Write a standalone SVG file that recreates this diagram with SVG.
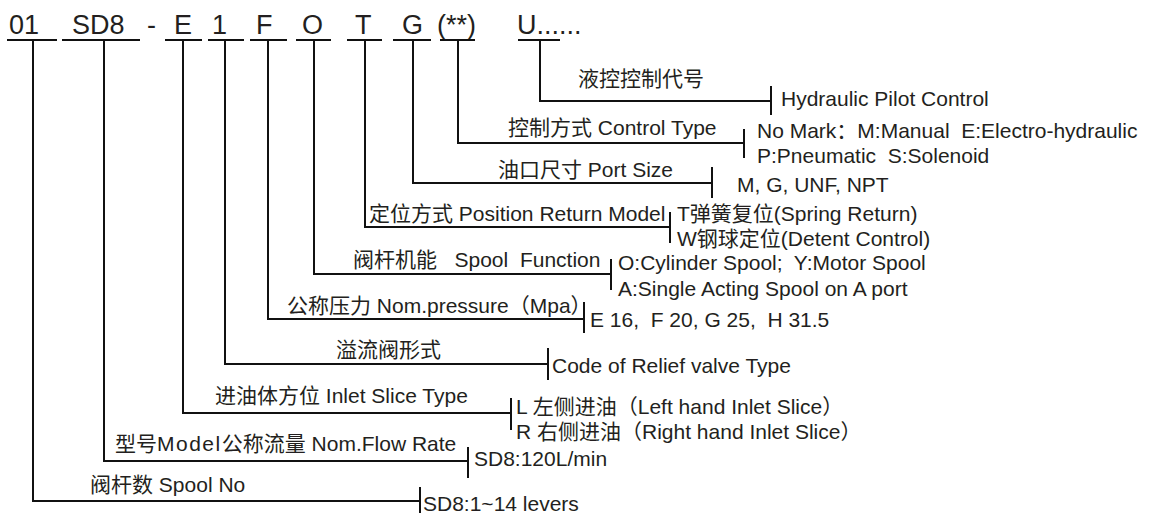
<svg xmlns="http://www.w3.org/2000/svg" width="1152" height="513" viewBox="0 0 1152 513">
<style>
text{font-family:"Liberation Sans","Noto Sans CJK SC",sans-serif;fill:#231f20;white-space:pre}
.h{font-size:27px}
.t{font-size:21px}
.ln{stroke:#111;stroke-width:2;fill:none}
</style>
<rect width="1152" height="513" fill="#fff"/>
<g id="code-01"><text class="h" x="9" y="34">01</text><path class="ln" d="M7 40H57"/></g>
<g id="code-SD8"><text class="h" x="72" y="34">SD8</text><path class="ln" d="M62 40H140"/></g>
<g id="code-dash"><text class="h" x="147" y="34">-</text></g>
<g id="code-E"><text class="h" x="174" y="34">E</text><path class="ln" d="M165 40H202"/></g>
<g id="code-1"><text class="h" x="212" y="34">1</text><path class="ln" d="M208 40H244"/></g>
<g id="code-F"><text class="h" x="256" y="34">F</text><path class="ln" d="M250 40H287"/></g>
<g id="code-O"><text class="h" x="302" y="34">O</text><path class="ln" d="M296 40H331"/></g>
<g id="code-T"><text class="h" x="355" y="34">T</text><path class="ln" d="M347 40H382"/></g>
<g id="code-G"><text class="h" x="402" y="34">G</text><path class="ln" d="M393 40H431"/></g>
<g id="code-star"><text class="h" x="437" y="34">(**)</text><path class="ln" d="M440 40H475"/></g>
<g id="code-U"><text class="h" x="517" y="34">U......</text><path class="ln" d="M518 40H560"/></g>

<g id="connectors" class="ln">
<path d="M540 40V101H771M771 86V115"/>
<path d="M458 40V143H744M744 129V158"/>
<path d="M413 40V183H712M712 167V198"/>
<path d="M365 40V227H670M670 212V243"/>
<path d="M314 40V274H611M611 259V290"/>
<path d="M268 40V319H584M584 302V333"/>
<path d="M225 40V364H548M548 348V380"/>
<path d="M183 40V413H511M511 398V430"/>
<path d="M104 40V461H468M468 447V478"/>
<path d="M33 40V501H420M420 487V513"/>
</g>

<g id="pilot"><text class="t" x="578" y="86">液控控制代号</text><text class="t" x="781" y="106">Hydraulic Pilot Control</text></g>
<g id="control"><text class="t" x="508" y="135">控制方式 Control Type</text><text class="t" x="757" y="138">No Mark：M:Manual  E:Electro-hydraulic</text><text class="t" x="757" y="163">P:Pneumatic  S:Solenoid</text></g>
<g id="port"><text class="t" x="498" y="177">油口尺寸 Port Size</text><text class="t" x="737" y="192">M, G, UNF, NPT</text></g>
<g id="position"><text class="t" x="369" y="221">定位方式 Position Return Model</text><text class="t" x="677" y="221">T弹簧复位(Spring Return)</text><text class="t" x="677" y="246">W钢球定位(Detent Control)</text></g>
<g id="spool"><text class="t" x="353" y="267">阀杆机能   Spool  Function</text><text class="t" x="618" y="270">O:Cylinder Spool;  Y:Motor Spool</text><text class="t" x="618" y="296">A:Single Acting Spool on A port</text></g>
<g id="pressure"><text class="t" x="287" y="313">公称压力 Nom.pressure（Mpa）</text><text class="t" x="590" y="327">E 16,  F 20, G 25,  H 31.5</text></g>
<g id="relief"><text class="t" x="336" y="357">溢流阀形式</text><text class="t" x="552" y="373">Code of Relief valve Type</text></g>
<g id="inlet"><text class="t" x="215" y="403">进油体方位 Inlet Slice Type</text><text class="t" x="516" y="414">L 左侧进油（Left hand Inlet Slice）</text><text class="t" x="516" y="439">R 右侧进油（Right hand Inlet Slice）</text></g>
<g id="flow"><text class="t" x="115" y="451">型号<tspan letter-spacing="1.5">Model</tspan>公称流量 Nom.Flow Rate</text><text class="t" x="474" y="466">SD8:120L/min</text></g>
<g id="spoolno"><text class="t" x="90" y="492">阀杆数 Spool No</text><text class="t" x="423" y="511">SD8:1~14 levers</text></g>
</svg>
